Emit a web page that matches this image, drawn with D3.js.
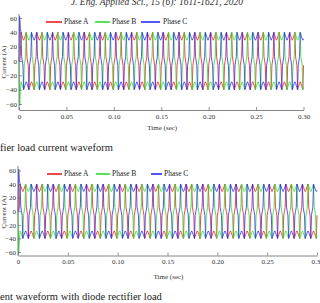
<!DOCTYPE html>
<html><head><meta charset="utf-8">
<script src="https://cdn.jsdelivr.net/npm/d3@7"></script>
<style>body{margin:0;background:#fff}svg{display:block}</style>
</head><body>
<script>
const header = "J. Eng. Applied Sci., 15 (6): 1611-1621, 2020";
const seriesNames = ["Phase A", "Phase B", "Phase C"];
const yTicks = [-60, -40, -20, 0, 20, 40, 60];
const xTicks = [0, 0.05, 0.10, 0.15, 0.20, 0.25, 0.30];
const xTickLabels = ["0", "0.05", "0.10", "0.15", "0.20", "0.25", "0.30"];
const xTitle = "Time (sec)";
const yTitle = "Current (A)";
const captions = ["fier load current waveform", "ent waveform with diode rectifier load"];
const timeStep = 1 / 1440; // sampling interval of the read-off values (s)

const phaseA = [
0,0,6,40,37,34,31,29,31,34,37,40,6,0,-6,-40,-37,-34,-31,-29,-31,-34,-37,-40,
-6,0,6,40,37,34,31,29,31,34,37,40,6,0,-6,-40,-37,-34,-31,-29,-31,-34,-37,-40,
-6,0,6,40,37,34,31,29,31,34,37,40,6,0,-6,-40,-37,-34,-31,-29,-31,-34,-37,-40,
-6,0,6,40,37,34,31,29,31,34,37,40,6,0,-6,-40,-37,-34,-31,-29,-31,-34,-37,-40,
-6,0,6,40,37,34,31,29,31,34,37,40,6,0,-6,-40,-37,-34,-31,-29,-31,-34,-37,-40,
-6,0,6,40,37,34,31,29,31,34,37,40,6,0,-6,-40,-37,-34,-31,-29,-31,-34,-37,-40,
-6,0,6,40,37,34,31,29,31,34,37,40,6,0,-6,-40,-37,-34,-31,-29,-31,-34,-37,-40,
-6,0,6,40,37,34,31,29,31,34,37,40,6,0,-6,-40,-37,-34,-31,-29,-31,-34,-37,-40,
-6,0,6,40,37,34,31,29,31,34,37,40,6,0,-6,-40,-37,-34,-31,-29,-31,-34,-37,-40,
-6,0,6,40,37,34,31,29,31,34,37,40,6,0,-6,-40,-37,-34,-31,-29,-31,-34,-37,-40,
-6,0,6,40,37,34,31,29,31,34,37,40,6,0,-6,-40,-37,-34,-31,-29,-31,-34,-37,-40,
-6,0,6,40,37,34,31,29,31,34,37,40,6,0,-6,-40,-37,-34,-31,-29,-31,-34,-37,-40,
-6,0,6,40,37,34,31,29,31,34,37,40,6,0,-6,-40,-37,-34,-31,-29,-31,-34,-37,-40,
-6,0,6,40,37,34,31,29,31,34,37,40,6,0,-6,-40,-37,-34,-31,-29,-31,-34,-37,-40,
-6,0,6,40,37,34,31,29,31,34,37,40,6,0,-6,-40,-37,-34,-31,-29,-31,-34,-37,-40,
-6,0,6,40,37,34,31,29,31,34,37,40,6,0,-6,-40,-37,-34,-31,-29,-31,-34,-37,-40,
-6,0,6,40,37,34,31,29,31,34,37,40,6,0,-6,-40,-37,-34,-31,-29,-31,-34,-37,-40,
-6,0,6,40,37,34,31,29,31,34,37,40,6,0,-6,-40,-37,-34,-31,-29,-31,-34,-37,-40,
-6];

const phaseB = [
0,-62,-42,-29,-31,-34,-37,-40,-6,0,6,40,37,34,31,29,31,34,37,40,6,0,-6,-40,
-37,-34,-31,-29,-31,-34,-37,-40,-6,0,6,40,37,34,31,29,31,34,37,40,6,0,-6,-40,
-37,-34,-31,-29,-31,-34,-37,-40,-6,0,6,40,37,34,31,29,31,34,37,40,6,0,-6,-40,
-37,-34,-31,-29,-31,-34,-37,-40,-6,0,6,40,37,34,31,29,31,34,37,40,6,0,-6,-40,
-37,-34,-31,-29,-31,-34,-37,-40,-6,0,6,40,37,34,31,29,31,34,37,40,6,0,-6,-40,
-37,-34,-31,-29,-31,-34,-37,-40,-6,0,6,40,37,34,31,29,31,34,37,40,6,0,-6,-40,
-37,-34,-31,-29,-31,-34,-37,-40,-6,0,6,40,37,34,31,29,31,34,37,40,6,0,-6,-40,
-37,-34,-31,-29,-31,-34,-37,-40,-6,0,6,40,37,34,31,29,31,34,37,40,6,0,-6,-40,
-37,-34,-31,-29,-31,-34,-37,-40,-6,0,6,40,37,34,31,29,31,34,37,40,6,0,-6,-40,
-37,-34,-31,-29,-31,-34,-37,-40,-6,0,6,40,37,34,31,29,31,34,37,40,6,0,-6,-40,
-37,-34,-31,-29,-31,-34,-37,-40,-6,0,6,40,37,34,31,29,31,34,37,40,6,0,-6,-40,
-37,-34,-31,-29,-31,-34,-37,-40,-6,0,6,40,37,34,31,29,31,34,37,40,6,0,-6,-40,
-37,-34,-31,-29,-31,-34,-37,-40,-6,0,6,40,37,34,31,29,31,34,37,40,6,0,-6,-40,
-37,-34,-31,-29,-31,-34,-37,-40,-6,0,6,40,37,34,31,29,31,34,37,40,6,0,-6,-40,
-37,-34,-31,-29,-31,-34,-37,-40,-6,0,6,40,37,34,31,29,31,34,37,40,6,0,-6,-40,
-37,-34,-31,-29,-31,-34,-37,-40,-6,0,6,40,37,34,31,29,31,34,37,40,6,0,-6,-40,
-37,-34,-31,-29,-31,-34,-37,-40,-6,0,6,40,37,34,31,29,31,34,37,40,6,0,-6,-40,
-37,-34,-31,-29,-31,-34,-37,-40,-6,0,6,40,37,34,31,29,31,34,37,40,6,0,-6,-40,
-37];

const phaseC = [
0,62,45,40,6,0,-6,-40,-37,-34,-31,-29,-31,-34,-37,-40,-6,0,6,40,37,34,31,29,
31,34,37,40,6,0,-6,-40,-37,-34,-31,-29,-31,-34,-37,-40,-6,0,6,40,37,34,31,29,
31,34,37,40,6,0,-6,-40,-37,-34,-31,-29,-31,-34,-37,-40,-6,0,6,40,37,34,31,29,
31,34,37,40,6,0,-6,-40,-37,-34,-31,-29,-31,-34,-37,-40,-6,0,6,40,37,34,31,29,
31,34,37,40,6,0,-6,-40,-37,-34,-31,-29,-31,-34,-37,-40,-6,0,6,40,37,34,31,29,
31,34,37,40,6,0,-6,-40,-37,-34,-31,-29,-31,-34,-37,-40,-6,0,6,40,37,34,31,29,
31,34,37,40,6,0,-6,-40,-37,-34,-31,-29,-31,-34,-37,-40,-6,0,6,40,37,34,31,29,
31,34,37,40,6,0,-6,-40,-37,-34,-31,-29,-31,-34,-37,-40,-6,0,6,40,37,34,31,29,
31,34,37,40,6,0,-6,-40,-37,-34,-31,-29,-31,-34,-37,-40,-6,0,6,40,37,34,31,29,
31,34,37,40,6,0,-6,-40,-37,-34,-31,-29,-31,-34,-37,-40,-6,0,6,40,37,34,31,29,
31,34,37,40,6,0,-6,-40,-37,-34,-31,-29,-31,-34,-37,-40,-6,0,6,40,37,34,31,29,
31,34,37,40,6,0,-6,-40,-37,-34,-31,-29,-31,-34,-37,-40,-6,0,6,40,37,34,31,29,
31,34,37,40,6,0,-6,-40,-37,-34,-31,-29,-31,-34,-37,-40,-6,0,6,40,37,34,31,29,
31,34,37,40,6,0,-6,-40,-37,-34,-31,-29,-31,-34,-37,-40,-6,0,6,40,37,34,31,29,
31,34,37,40,6,0,-6,-40,-37,-34,-31,-29,-31,-34,-37,-40,-6,0,6,40,37,34,31,29,
31,34,37,40,6,0,-6,-40,-37,-34,-31,-29,-31,-34,-37,-40,-6,0,6,40,37,34,31,29,
31,34,37,40,6,0,-6,-40,-37,-34,-31,-29,-31,-34,-37,-40,-6,0,6,40,37,34,31,29,
31,34,37,40,6,0,-6,-40,-37,-34,-31,-29,-31,-34,-37,-40,-6,0,6,40,37,34,31,29,
31];

const phases = [phaseA, phaseB, phaseC];
const colors = ["#ee1c1c", "#2ade2a", "#2b2bf0"];
const serif = "'Liberation Serif','Times New Roman',Times,serif";

const svg = d3.select("body").append("svg").attr("width", 320).attr("height", 303);

svg.append("text").attr("x", 157).attr("y", 5).attr("text-anchor", "middle")
  .attr("font-family", serif).attr("font-style", "italic").attr("font-size", 9.5)
  .attr("fill", "#333").text(header);

const layouts = [
  {x0: 19, x1: 303.5, yHi: 18, yLo: 104, axisY: 110, axisTop: 14, titleY: 130, ylabY: 62, legendY: 22,
   legend: [[46, 62, 64], [95, 110, 112], [141, 160, 163]], captionY: 151},
  {x0: 18, x1: 317, yHi: 170.5, yLo: 252, axisY: 255.5, axisTop: 166, titleY: 279, ylabY: 212, legendY: 174,
   legend: [[47, 62, 64], [96, 110, 112], [151, 162, 164]], captionY: 300}
];

layouts.forEach((L, ci) => {
  const g = svg.append("g");
  const x = d3.scaleLinear().domain([0, 0.3]).range([L.x0, L.x1]);
  const y = d3.scaleLinear().domain([-60, 60]).range([L.yLo, L.yHi]);

  const line = d3.line().x((d, i) => x(i * timeStep)).y(d => y(d));
  phases.forEach((p, k) => {
    g.append("path").datum(p).attr("d", line).attr("fill", "none")
      .attr("stroke", colors[k]).attr("stroke-width", 0.9).attr("stroke-opacity", 0.9)
      .attr("stroke-linejoin", "round");
  });

  const xa = g.append("g").attr("transform", `translate(0,${L.axisY})`)
    .call(d3.axisBottom(x).tickValues(xTicks).tickFormat((d, i) => xTickLabels[i])
      .tickSizeInner(-3).tickSizeOuter(0).tickPadding(4));
  xa.select(".domain").attr("stroke", "#666").attr("stroke-width", 0.8);
  xa.selectAll(".tick line").attr("stroke", "#666").attr("stroke-width", 0.7);
  xa.selectAll("text").attr("font-family", serif).attr("font-size", 7).attr("fill", "#333");

  const ya = g.append("g").attr("transform", `translate(${L.x0},0)`)
    .call(d3.axisLeft(y).tickValues(yTicks).tickSizeInner(-3).tickSizeOuter(0).tickPadding(2));
  ya.select(".domain").remove();
  ya.selectAll(".tick line").attr("stroke", "#666").attr("stroke-width", 0.7);
  ya.selectAll("text").attr("font-family", serif).attr("font-size", 7).attr("fill", "#333");
  g.append("line").attr("x1", L.x0).attr("x2", L.x0).attr("y1", L.axisTop).attr("y2", L.axisY)
    .attr("stroke", "#666").attr("stroke-width", 0.8);

  g.append("text").attr("x", (x(0) + x(0.3)) / 2 + 1).attr("y", L.titleY).attr("text-anchor", "middle")
    .attr("font-family", serif).attr("font-size", 7).attr("fill", "#333").text(xTitle);
  g.append("text").attr("transform", `translate(4,${L.ylabY}) rotate(-90)`).attr("text-anchor", "middle")
    .attr("dominant-baseline", "middle").attr("font-family", serif).attr("font-size", 7)
    .attr("fill", "#333").text(yTitle);

  seriesNames.forEach((name, k) => {
    const [a, b, t] = L.legend[k];
    g.append("line").attr("x1", a).attr("x2", b).attr("y1", L.legendY).attr("y2", L.legendY)
      .attr("stroke", colors[k]).attr("stroke-width", 1.6);
    g.append("text").attr("x", t).attr("y", L.legendY).attr("dominant-baseline", "middle")
      .attr("font-family", serif).attr("font-size", 7.5).attr("fill", "#222").text(name);
  });

  g.append("text").attr("x", 0).attr("y", L.captionY).attr("font-family", serif)
    .attr("font-size", 10.5).attr("fill", "#222").text(captions[ci]);
});
</script>
</body></html>
